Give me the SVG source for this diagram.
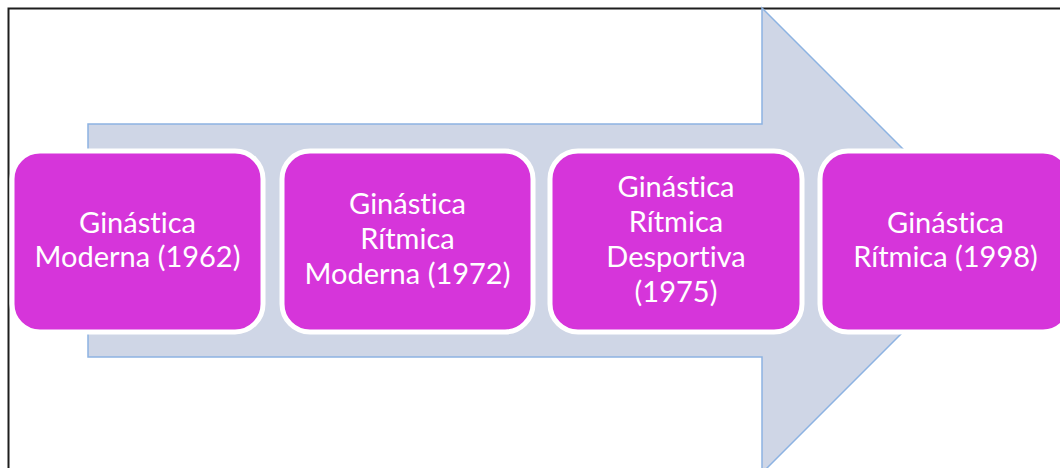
<svg xmlns="http://www.w3.org/2000/svg" width="1060" height="468" viewBox="0 0 1060 468">
<style>
.node rect{fill:#D635DA;stroke:#FFFFFF;stroke-width:5}
.node text{font-family:Lato,"Open Sans",sans-serif;font-size:29px;fill:#FFFFFF;text-anchor:middle;font-variant-ligatures:none;font-feature-settings:"liga" 0,"clig" 0}
</style>
<rect x="0" y="0" width="1060" height="468" fill="#FFFFFF"/>
<rect id="frame" x="8.5" y="8.5" width="1100" height="520" fill="none" stroke="#1E1E1E" stroke-width="2"/>
<g id="connectors">
<polygon points="88,124 762,124 762,8 994.5,240.5 762,473 762,357 88,357" fill="#CFD6E6" stroke="#8DB3E2" stroke-width="1.5"/>
</g>
<g id="node1" class="node">
<rect x="12" y="151" width="251" height="181" rx="28"/>
<text x="137.5" y="233">Ginástica</text>
<text x="137.5" y="267">Moderna (1962)</text>
</g>
<g id="node2" class="node">
<rect x="282" y="151" width="251" height="181" rx="28"/>
<text x="407.5" y="214">Ginástica</text>
<text x="407.5" y="249">Rítmica</text>
<text x="407.5" y="284">Moderna (1972)</text>
</g>
<g id="node3" class="node">
<rect x="550" y="151" width="252" height="181" rx="28"/>
<text x="676" y="197">Ginástica</text>
<text x="676" y="232">Rítmica</text>
<text x="676" y="267">Desportiva</text>
<text x="676" y="302">(1975)</text>
</g>
<g id="node4" class="node">
<rect x="820" y="151" width="251" height="181" rx="28"/>
<text x="945.5" y="233">Ginástica</text>
<text x="945.5" y="267">Rítmica (1998)</text>
</g>
</svg>
